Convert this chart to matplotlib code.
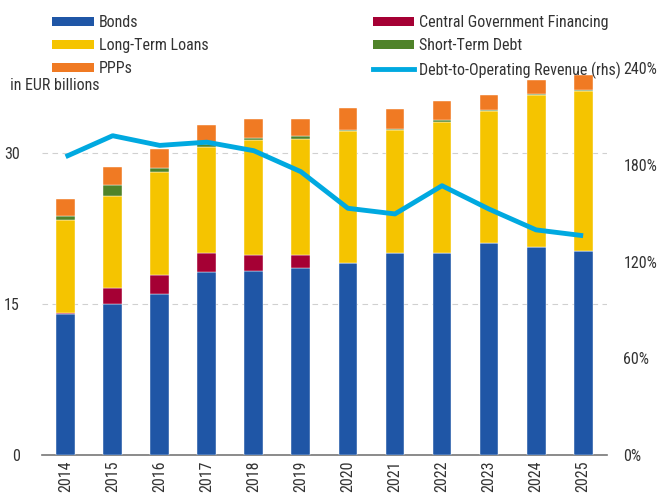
import matplotlib
matplotlib.use("Agg")
import matplotlib.pyplot as plt
import numpy as np
from matplotlib.patches import Patch
from matplotlib.lines import Line2D
from matplotlib import font_manager as fm

_avail = {f.name for f in fm.fontManager.ttflist}
_prefs = ['Roboto Condensed', 'Archivo Narrow', 'PT Sans Narrow', 'Barlow Semi Condensed',
          'Liberation Sans Narrow', 'Open Sans Condensed', 'Roboto']
_fams = [f for f in _prefs if f in _avail] + ['DejaVu Sans']
plt.rcParams['font.family'] = _fams

years = ["2014", "2015", "2016", "2017", "2018", "2019", "2020", "2021", "2022", "2023", "2024", "2025"]
bonds = [14.0, 15.0, 16.0, 18.2, 18.3, 18.6, 19.1, 20.1, 20.1, 21.1, 20.7, 20.3]
cgf = [0.1, 1.6, 1.9, 1.9, 1.6, 1.3, 0.0, 0.0, 0.0, 0.0, 0.0, 0.0]
ltl = [9.2, 9.1, 10.2, 10.5, 11.4, 11.5, 13.1, 12.2, 13.0, 13.1, 15.1, 15.9]
std = [0.4, 1.1, 0.4, 0.3, 0.2, 0.25, 0.1, 0.1, 0.2, 0.1, 0.1, 0.1]
ppp = [1.7, 1.8, 1.9, 1.9, 1.9, 1.75, 2.2, 2.0, 1.9, 1.5, 1.4, 1.45]
ratio = [185, 198, 192, 194, 188.7, 175.7, 153, 149.5, 167, 152.5, 139.6, 136]

c_bonds = "#1f56a6"
c_cgf = "#a50034"
c_ltl = "#f5c400"
c_std = "#4f8329"
c_ppp = "#f07a23"
c_line = "#00a9e0"
txt_c = "#333333"
fs = 11.5

fig = plt.figure(figsize=(6.58, 5.0), dpi=100)
ax = fig.add_axes([0.064, 0.09, 0.858, 0.774])
ax2 = ax.twinx()

x = np.arange(len(years))
w = 0.4
series = [(bonds, c_bonds), (cgf, c_cgf), (ltl, c_ltl), (std, c_std), (ppp, c_ppp)]
bottom = np.zeros(len(years))
for vals, col in series:
    v = np.array(vals)
    ax.bar(x, v, w, bottom=bottom, color=col, edgecolor="#ffffff", linewidth=0.3, zorder=3)
    bottom += v

ax2.plot(x, ratio, color=c_line, linewidth=3.5, solid_capstyle='butt', zorder=4)

ax.set_xlim(-0.5, 11.5)
ax.set_ylim(0, 38.45)
ax2.set_ylim(0, 240)
ax.set_yticks([0, 15, 30])
ax2.set_yticks([0, 60, 120, 180, 240])
ax2.set_yticklabels(["0%", "60%", "120%", "180%", "240%"])
ax.set_xticks(x)
ax.set_xticklabels(years, rotation=90)
ax.yaxis.grid(True, linestyle=(0, (5, 4)), color="#d0d0d0", linewidth=0.8, zorder=0)
ax.set_axisbelow(True)

for a in (ax, ax2):
    for s in ("top", "left", "right", "bottom"):
        a.spines[s].set_visible(False)
    a.tick_params(length=0, labelsize=fs, colors=txt_c)
ax.spines["bottom"].set_visible(True)
ax.spines["bottom"].set_color("#777777")
ax.spines["bottom"].set_linewidth(1.2)
ax.tick_params(axis='y', pad=16)
ax.tick_params(axis='x', pad=4)
ax2.tick_params(axis='y', pad=12)
ax2.set_zorder(ax.get_zorder() + 1)
ax2.patch.set_visible(False)

handles = [
    Patch(facecolor=c_bonds, label="Bonds"),
    Patch(facecolor=c_ltl, label="Long-Term Loans"),
    Patch(facecolor=c_ppp, label="PPPs"),
    Patch(facecolor=c_cgf, label="Central Government Financing"),
    Patch(facecolor=c_std, label="Short-Term Debt"),
    Line2D([0], [0], color=c_line, linewidth=3.5, label="Debt-to-Operating Revenue (rhs)"),
]
leg = fig.legend(handles=handles, ncol=2, loc="upper left", bbox_to_anchor=(0.06, 0.995),
                 frameon=False, fontsize=fs, handlelength=2.6, handleheight=0.55,
                 handletextpad=0.3, columnspacing=10.3, labelspacing=0.5, borderpad=0.3)
for t in leg.get_texts():
    t.set_color(txt_c)

fig.text(0.015, 0.83, "in EUR billions", fontsize=fs, color=txt_c, va="center")

fig.savefig("out.png", dpi=100)
